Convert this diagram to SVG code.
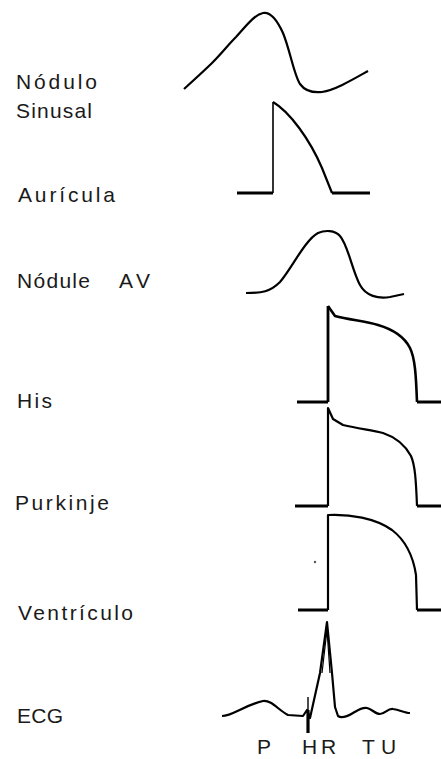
<svg xmlns="http://www.w3.org/2000/svg" width="441" height="759" viewBox="0 0 441 759">
<style>
.lbl{font-family:"Liberation Sans",Arial,sans-serif;font-size:21px;fill:#1a1a1a}
.ecgl{font-family:"Liberation Sans",Arial,sans-serif;font-size:21px;fill:#1a1a1a}
.tr{fill:none;stroke:#000;stroke-width:2.2;stroke-linejoin:round;stroke-linecap:butt}
.base{fill:none;stroke:#000;stroke-width:3.2}
</style>
<rect width="441" height="759" fill="#fff"/>
<g id="labels">
<text class="lbl" x="16" y="89" textLength="81" lengthAdjust="spacing">Nódulo</text>
<text class="lbl" x="16" y="118" textLength="76" lengthAdjust="spacing">Sinusal</text>
<text class="lbl" x="18" y="202" textLength="97" lengthAdjust="spacing">Aurícula</text>
<text class="lbl" x="17" y="288" textLength="73" lengthAdjust="spacing">Nódule</text>
<text class="lbl" x="119" y="288" textLength="31" lengthAdjust="spacing">A V</text>
<text class="lbl" x="17" y="408" textLength="35" lengthAdjust="spacing">His</text>
<text class="lbl" x="15" y="510" textLength="94" lengthAdjust="spacing">Purkinje</text>
<text class="lbl" x="18" y="620" textLength="115" lengthAdjust="spacing">Ventrículo</text>
<text class="lbl" x="17" y="723" textLength="46" lengthAdjust="spacing">ECG</text>
</g>
<g id="nodulo-sinusal">
<path class="tr" d="M184,89 C195,79 205,70 213,62 C222,53 228,45 236,37 C246,26 254,15 263,13 Q273,11 283,33 C290,50 294,75 300,84 C305,91 312,93 322,92 C335,90 352,80 368,71"/>
</g>
<g id="auricula">
<path class="base" d="M237,193 H273 M332,193 H370"/>
<path class="tr" style="stroke-width:1.6" d="M273,193 V102"/>
<path class="tr" d="M273,102 C290,112 310,140 322,168 L332,193"/>
</g>
<g id="nodulo-av">
<path class="tr" d="M246,293 C262,293 270,292 280,282 C292,268 305,240 318,233 C325,230 335,230 340,236 C348,245 352,270 360,285 C366,296 378,299 390,297 L404,294"/>
</g>
<g id="his">
<path class="base" d="M297,402 H328 M417,402 H441"/>
<path class="tr" style="stroke-width:2.8" d="M328,402 V306"/>
<path class="tr" style="stroke-width:2.6" d="M328,306 L335,316 C350,320 365,321 378,325 C395,330 405,338 410,348 C415,358 416,375 417,402"/>
</g>
<g id="purkinje">
<path class="base" d="M295,506 H328 M417,506 H441"/>
<path class="tr" d="M328,506 V408 L333,419 L343,425 C360,429 372,430 383,433 C395,437 405,445 411,456 C415,465 416,480 417,506"/>
</g>
<g id="ventriculo">
<path class="base" d="M298,610 H328 M417,610 H441"/>
<path class="tr" d="M328,610 V515 C350,514 375,518 392,530 C405,540 413,555 416,575 L417,610"/>
<circle cx="315" cy="562" r="1.2" fill="#555"/>
</g>
<g id="ecg">
<path class="tr" d="M222,716 C232,716 245,705 263,701 C272,700 278,710 288,715 L303,716 L307,710 L310,718 L320,673 L327,622 L332,673 L335,707 L338,716 C342,719 348,716 353,713 C358,710 362,707 367,708 C372,709 375,714 380,714 C385,714 388,708 393,709 C400,710 405,713 410,713"/>
<path class="tr" style="stroke-width:1.2" d="M322,673 L327,630 L330,673"/>
<path class="tr" style="stroke-width:1.4" d="M308,697 V712"/>
<path class="tr" style="stroke-width:3.2" d="M308,710 V733"/>
<text class="ecgl" x="257" y="754">P</text>
<text class="ecgl" x="302" y="754">H</text>
<text class="ecgl" x="321" y="754">R</text>
<text class="ecgl" x="362" y="754">T</text>
<text class="ecgl" x="381" y="754">U</text>
</g>
</svg>
